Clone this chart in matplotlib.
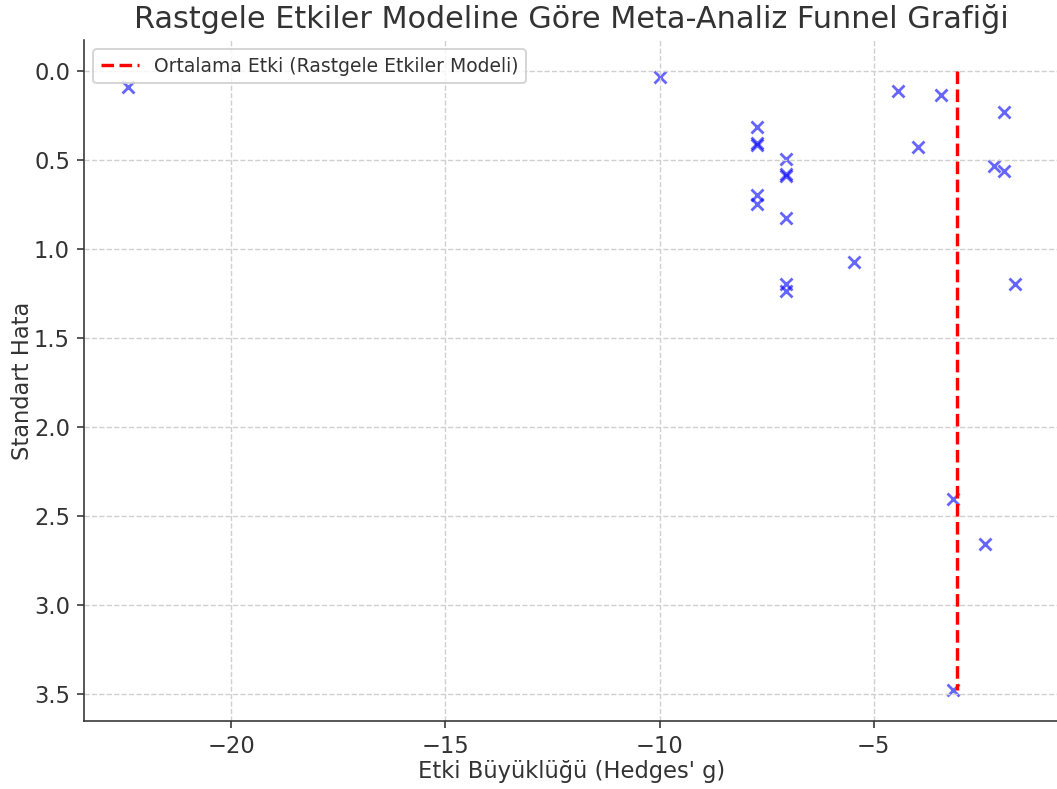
import matplotlib
matplotlib.use("Agg")
import matplotlib.pyplot as plt

# effect sizes (Hedges' g) and standard errors
hedges_g = [-22.40, -10.00, -7.73, -7.73, -7.73, -7.73, -7.73,
            -7.05, -7.05, -7.05, -7.05, -7.05, -7.05, -5.46,
            -4.44, -3.97, -3.43, -1.96, -2.20, -1.96, -1.71,
            -3.15, -2.41, -3.15]
std_err = [0.09, 0.035, 0.315, 0.405, 0.415, 0.70, 0.75,
           0.495, 0.58, 0.59, 0.825, 1.195, 1.235, 1.075,
           0.115, 0.43, 0.135, 0.23, 0.535, 0.565, 1.20,
           2.405, 2.66, 3.48]
mean_effect = -3.05

text_color = "#333333"
plt.rcParams["text.color"] = text_color
plt.rcParams["axes.labelcolor"] = text_color
plt.rcParams["xtick.color"] = text_color
plt.rcParams["ytick.color"] = text_color

fig = plt.figure(figsize=(1057 / 144, 789 / 144), dpi=144)
ax = fig.add_axes([84 / 1057, 1 - 721 / 789, (1059 - 84) / 1057, (721 - 40) / 789])

ax.scatter(hedges_g, std_err, marker="x", color="blue", alpha=0.6, s=36, linewidths=1.4)
ax.plot([mean_effect, mean_effect], [0, max(std_err)], "r--", linewidth=1.7,
        label="Ortalama Etki (Rastgele Etkiler Modeli)")

ax.invert_yaxis()
ax.set_title("Rastgele Etkiler Modeline Göre Meta-Analiz Funnel Grafiği", fontsize=15.1)
ax.set_xlabel("Etki Büyüklüğü (Hedges' g)", fontsize=11.3, labelpad=1)
ax.set_ylabel("Standart Hata", fontsize=11.3, labelpad=0)
ax.tick_params(labelsize=11.3)
ax.grid(True, linestyle="--", color="#d0d0d0", linewidth=0.7)
ax.spines["top"].set_visible(False)
ax.spines["right"].set_visible(False)
ax.spines["left"].set_color(text_color)
ax.spines["bottom"].set_color(text_color)
ax.legend(loc="upper left", fontsize=9.4)

fig.savefig("out.png", dpi=144)
